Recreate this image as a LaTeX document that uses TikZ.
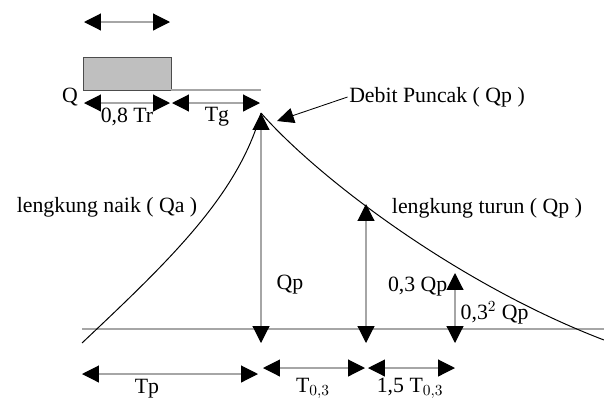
\documentclass[tikz,border=0pt]{standalone}
\usepackage{fontspec}
\setmainfont{Liberation Serif}
\usepackage{tikz}
\usetikzlibrary{arrows.meta, positioning, calc}
\colorlet{shaft}{gray!70}
\colorlet{block}{gray!50}

\begin{document}
\begin{tikzpicture}[x=0.25mm, y=-0.25mm,
  lbl/.style={font=\fontsize{15.5}{18}\selectfont, inner sep=1pt},
  dim/.style={draw=shaft, line width=0.8pt,
    {Triangle[length=12pt,width=12pt,black]}-{Triangle[length=12pt,width=12pt,black]}},
  curve/.style={draw=black, line width=0.7pt}]
  \useasboundingbox (0,0) rectangle (604,401);
  % --- key points of the hydrograph ---
  \coordinate (start) at (82,343);
  \coordinate (peak)  at (261,113);
  \coordinate (end)   at (604,340);
  \coordinate (pkfoot) at (261,343);
  \coordinate (t1top)  at (366,204);
  \coordinate (t1foot) at (366,343);
  \coordinate (t2top)  at (455,273);
  \coordinate (t2foot) at (455,343);
  % --- rain block ---
  \draw[fill=block, draw=black!70, line width=0.6pt] (83,57) rectangle (171,90);
  \draw[shaft, line width=0.8pt] (171,90) -- (261,90);
  \coordinate (topl) at (84,22);
  \coordinate (topr) at (170,22);
  \draw[dim] (topl) -- (topr);
  \node[lbl] (q) at (70,97) {Q};
  \coordinate (trl) at (84,103);
  \coordinate (trr) at (170,103);
  \coordinate (tgl) at (172,103);
  \coordinate (tgr) at (260,103);
  \draw[dim] (trl) -- (trr);
  \draw[dim] (tgl) -- (tgr);
  \node[lbl, anchor=north] (tr) at (127,106) {0,8 Tr};
  \node[lbl, anchor=north] (tg) at (217,106) {Tg};
  % --- base line and curves ---
  \draw[shaft, line width=0.8pt] (82,329) -- (604,329);
  \draw[curve] (start) .. controls (170,260) and (238,195) .. (peak);
  \draw[curve] (peak) .. controls (320,180) and (460,285) .. (end);
  % --- vertical ordinates ---
  \draw[dim] (pkfoot) -- (peak);
  \draw[dim] (t1foot) -- (t1top);
  \draw[dim] (t2foot) -- (t2top);
  \node[lbl] (qp) at (290,285) {Qp};
  \node[lbl, anchor=east] (q03) at (449,287) {0,3 Qp};
  \node[lbl, anchor=west] (q032) at (459,313) {0,3$^2$ Qp};
  \node[lbl] (naik) at (107,207) {lengkung naik ( Qa )};
  \node[lbl] (turun) at (487,208) {lengkung turun ( Qp )};
  \node[lbl] (debit) at (437,97) {Debit Puncak ( Qp )};
  \coordinate (debtip) at (277,121);
  \draw[black, line width=0.6pt, -{Triangle[length=12pt,width=11pt]}] (debit.west) -- (debtip);
  % --- time bases ---
  \coordinate (tpl) at (82,374);
  \coordinate (tpr) at (258,374);
  \coordinate (ta) at (263,368);
  \coordinate (tb) at (365,368);
  \coordinate (tc) at (368,368);
  \coordinate (td) at (455,368);
  \draw[dim] (tpl) -- (tpr);
  \draw[dim] (ta) -- (tb);
  \draw[dim] (tc) -- (td);
  \node[lbl, anchor=south] (tp) at (147,400) {Tp};
  \node[lbl, anchor=south] (t03) at (313,400) {T$_{0,3}$};
  \node[lbl, anchor=south] (t15) at (410,400) {1,5 T$_{0,3}$};
\end{tikzpicture}
\end{document}
